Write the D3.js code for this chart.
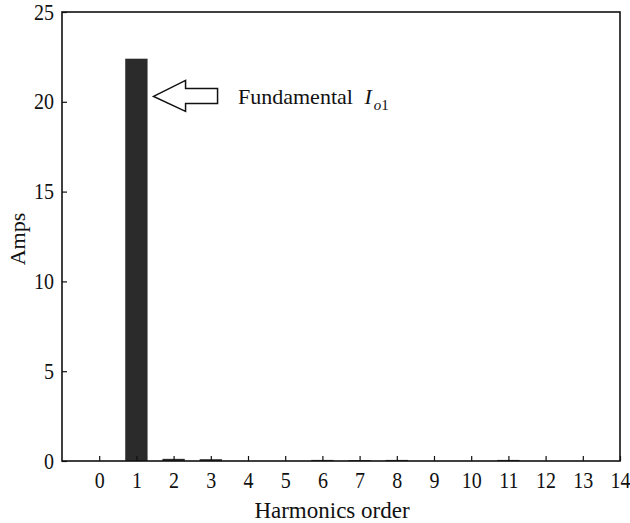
<!DOCTYPE html>
<html>
<head>
<meta charset="utf-8">
<script src="https://cdn.jsdelivr.net/npm/d3@7"></script>
<style>
  body { margin: 0; background: #fff; }
  svg text { fill: #111; }
</style>
</head>
<body>
<svg id="chart" width="630" height="523"></svg>
<script>
// Harmonic spectrum of the output current
const harmonics = [0, 1, 2, 3, 4, 5, 6, 7, 8, 9, 10, 11, 12, 13];
const amps = [0, 22.4, 0.12, 0.1, 0, 0, 0.06, 0.05, 0.06, 0, 0, 0.06, 0, 0];
const xTicks = [0, 1, 2, 3, 4, 5, 6, 7, 8, 9, 10, 11, 12, 13, 14];
const yTicks = [0, 5, 10, 15, 20, 25];

const FONT = "'Liberation Serif', 'Times New Roman', Times, 'DejaVu Serif', serif";

const svg = d3.select("#chart");
const m = { left: 62, right: 620, top: 12, bottom: 461 };

const x = d3.scaleLinear().domain([-1, 14]).range([m.left, m.right]);
const y = d3.scaleLinear().domain([0, 25]).range([m.bottom, m.top]);
const barW = x(0.6) - x(0);

// bars
svg.append("g").selectAll("rect")
  .data(harmonics.map((h, i) => ({ h, v: amps[i] })))
  .join("rect")
  .attr("x", d => x(d.h) - barW / 2)
  .attr("width", barW)
  .attr("y", d => y(d.v))
  .attr("height", d => y(0) - y(d.v))
  .attr("fill", "#2b2b2b");

// axes with inward ticks
const xAxis = svg.append("g").attr("transform", `translate(0,${m.bottom})`)
  .call(d3.axisBottom(x).tickValues(xTicks).tickSizeInner(-5).tickSizeOuter(0).tickPadding(0));
const yAxis = svg.append("g").attr("transform", `translate(${m.left},0)`)
  .call(d3.axisLeft(y).tickValues(yTicks).tickSizeInner(-5).tickSizeOuter(0).tickPadding(0));

[xAxis, yAxis].forEach(g => {
  g.attr("font-family", FONT);
  g.select(".domain").remove();
  g.selectAll(".tick line").attr("stroke", "#111").attr("stroke-width", 1.2);
  g.selectAll(".tick text")
    .style("font-family", FONT)
    .style("font-size", "20px").attr("fill", "#111").attr("dy", null);
});
// tick labels, slightly tall glyphs
xAxis.selectAll(".tick text")
  .attr("y", null)
  .attr("transform", "translate(0,27) scale(1,1.15)");
yAxis.selectAll(".tick text")
  .attr("x", null)
  .attr("transform", "translate(-8,7) scale(1,1.15)");

// frame
svg.append("rect")
  .attr("x", m.left).attr("y", m.top)
  .attr("width", m.right - m.left).attr("height", m.bottom - m.top)
  .attr("fill", "none").attr("stroke", "#111").attr("stroke-width", 1.6);

// axis titles
svg.append("text")
  .attr("x", 332).attr("y", 518)
  .attr("text-anchor", "middle")
  .style("font-family", FONT).style("font-size", "23px")
  .text("Harmonics order");
svg.append("text")
  .attr("transform", `translate(25,239) rotate(-90)`)
  .attr("text-anchor", "middle")
  .style("font-family", FONT).style("font-size", "22px")
  .text("Amps");

// outline arrow pointing to the fundamental
const ax = x(1) + barW / 2 + 6, ay = y(20.3);
const arrowPts = [
  [ax, ay], [ax + 32, ay - 16], [ax + 32, ay - 8], [ax + 64, ay - 8],
  [ax + 64, ay + 7], [ax + 32, ay + 7], [ax + 32, ay + 15]
];
svg.append("path")
  .attr("d", d3.line()(arrowPts) + "Z")
  .attr("fill", "#fff").attr("stroke", "#111").attr("stroke-width", 1.5);

const label = svg.append("text")
  .attr("x", 238).attr("y", 104)
  .style("font-family", FONT).style("font-size", "22px");
label.append("tspan").text("Fundamental ");
label.append("tspan").attr("font-style", "italic").attr("dx", 6).text("I");
label.append("tspan").attr("font-style", "italic").attr("dx", 2).attr("dy", 6).style("font-size", "15px").text("o");
label.append("tspan").style("font-size", "15px").text("1");
</script>
</body>
</html>
